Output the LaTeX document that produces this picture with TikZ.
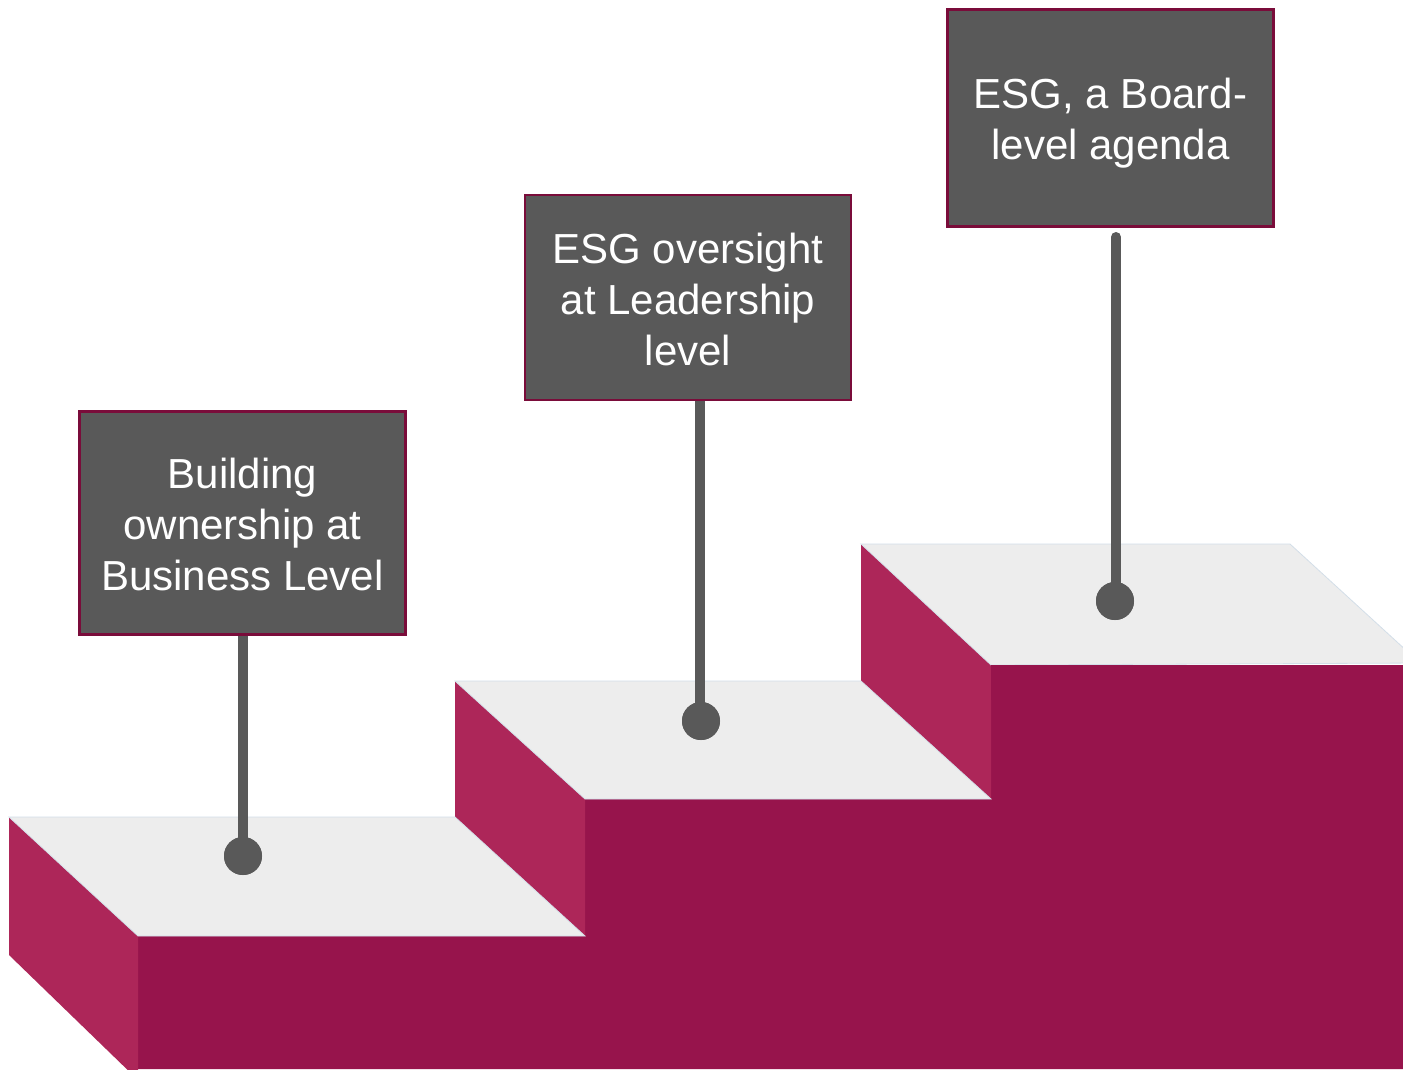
\documentclass[tikz,border=0pt]{standalone}
\usepackage{fontspec}
\setmainfont{Liberation Sans}
\definecolor{frontface}{HTML}{97144C}
\definecolor{sideface}{HTML}{AD2659}
\definecolor{topface}{HTML}{EDEDED}
\definecolor{topedge}{HTML}{D3DEE8}
\definecolor{signfill}{HTML}{595959}
\definecolor{signedge}{HTML}{7A0C3A}
\begin{document}
\begin{tikzpicture}[x=1pt,y=-1pt,
  signtext/.style={text=white, inner sep=0pt, align=center,
    font=\fontsize{42}{51}\selectfont},
  signbox/.style={signtext, draw=signedge, line width=2.2pt, fill=signfill,
    minimum width=326pt},
  pin/.style={circle, fill=signfill, minimum width=38pt, inner sep=0pt},
  stem/.style={draw=signfill, line width=10pt},
  top/.style={fill=topface, draw=topedge, line width=0.8pt},
  side/.style={fill=sideface},
  front/.style={fill=frontface}]
\useasboundingbox (0,0) rectangle (1403,1069);
\clip (0,0) rectangle (1403,1069);

% staircase: front faces of the three steps
\fill[front] (138,936) -- (585,936) -- (585,799) -- (991,799) -- (991,665)
  -- (1403,665) -- (1403,1069) -- (138,1069) -- cycle;
% bevelled left faces
\fill[side] (9,817) -- (138,936) -- (138,1080) -- (9,955) -- cycle;
\fill[side] (455,681) -- (585,799) -- (585,936) -- (455,817) -- cycle;
\fill[side] (861,544) -- (991,665) -- (991,799) -- (861,681) -- cycle;
% treads
\filldraw[top] (9,817) -- (455,817) -- (585,936) -- (138,936) -- cycle;
\filldraw[top] (455,681) -- (861,681) -- (991,799) -- (585,799) -- cycle;
\filldraw[top] (861,544) -- (1290,544) -- (1420,663) -- (991,665) -- cycle;
\fill[front] (991,665) rectangle (1403,700);

% signs
\node[signbox, minimum height=223pt,
  label={[signtext, yshift=-1pt]center:Building\\ownership at\\Business Level}]
  (b1) at (242.5,523) {};
\node[signbox, minimum height=205pt,
  label={[signtext, yshift=-1.5pt]center:ESG oversight\\at Leadership\\level}]
  (b2) at (688,297.5) {};
\node[signbox, minimum height=217pt,
  label={[signtext, yshift=-5pt]center:ESG, a Board-\\level agenda}]
  (b3) at (1110.5,118) {};

% pins on the treads
\node[pin] (p1) at (243,856) {};
\node[pin] (p2) at (701,721) {};
\node[pin] (p3) at (1115,601) {};
\coordinate (s3) at (1116,237);

% posts
\draw[stem] (b1.south -| p1) -- (p1.center);
\draw[stem] (b2.south -| 700,0) -- (700,721);
\draw[stem, line cap=round] (s3) -- (1116,601);
\node[pin] at (p1) {};
\node[pin] at (p2) {};
\node[pin] at (p3) {};
\end{tikzpicture}
\end{document}
